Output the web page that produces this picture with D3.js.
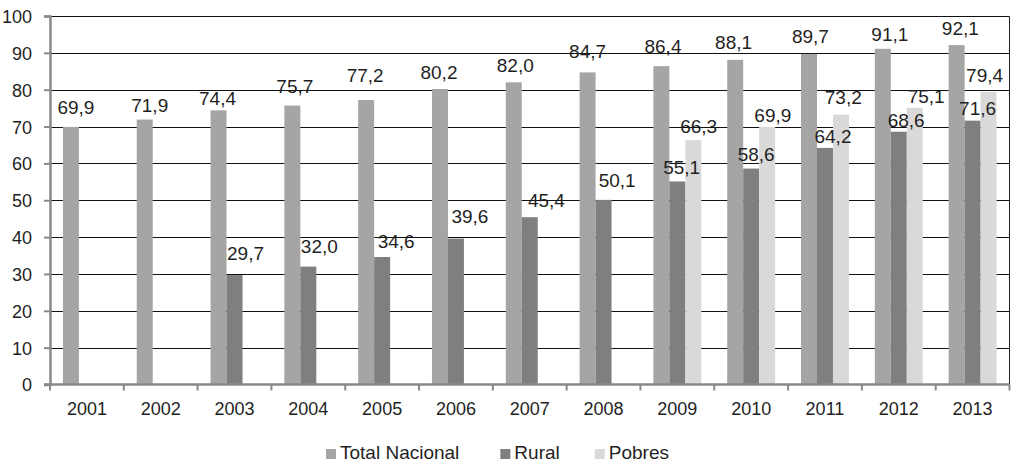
<!DOCTYPE html>
<html>
<head>
<meta charset="utf-8">
<script src="https://cdn.jsdelivr.net/npm/d3@7/dist/d3.min.js"></script>
<style>
  html, body { margin: 0; padding: 0; background: #fff; }
  svg { display: block; }
  text { font-family: "Liberation Sans", Arial, sans-serif; fill: #1f1f1f; }
</style>
</head>
<body>
<svg id="chart" width="1013" height="464"></svg>
<script>
// Years on the category axis
const years = ["2001","2002","2003","2004","2005","2006","2007","2008","2009","2010","2011","2012","2013"];

// Series values (null where no figure was reported)
const totalNacional = [69.9, 71.9, 74.4, 75.7, 77.2, 80.2, 82.0, 84.7, 86.4, 88.1, 89.7, 91.1, 92.1];
const rural        = [null, null, 29.7, 32.0, 34.6, 39.6, 45.4, 50.1, 55.1, 58.6, 64.2, 68.6, 71.6];
const pobres       = [null, null, null, null, null, null, null, null, 66.3, 69.9, 73.2, 75.1, 79.4];

const seriesNames = ["Total Nacional", "Rural", "Pobres"];
const yTicks = [0, 10, 20, 30, 40, 50, 60, 70, 80, 90, 100];

// Hand placement of each value label: [horizontal shift, lift above bar top]
const totalLabelShift  = [[5,13],[5,8],[-1,5],[2.5,12.5],[-1,18],[-1,10],[1.5,10],[0,14],[1.6,13],[-1.6,10.5],[1.4,10.6],[7,8],[3.7,10]];
const ruralLabelShift  = [null,null,[11,15],[11,14],[14,9],[14,16],[16.7,10.5],[13.6,13],[4.3,7.5],[5,7.5],[8,4.5],[7.4,4.4],[5,5.7]];
const pobresLabelShift = [null,null,null,null,null,null,null,null,[5.3,7],[5.7,5],[2.3,10.7],[11.4,4.5],[-4,10]];

const colors = ["#a5a5a5", "#7f7f7f", "#d9d9d9"];

const svg = d3.select("#chart");
const W = 1013, H = 464;
const plot = { left: 50, right: 1009.5, top: 16, bottom: 384.5 };

svg.append("rect").attr("width", W).attr("height", H).attr("fill", "#fff");

const x = d3.scaleBand().domain(years).range([plot.left, plot.right]).padding(0);
const inner = d3.scaleBand().domain(seriesNames).range([0, x.bandwidth()])
  .paddingInner(0).paddingOuter(0.81);
const y = d3.scaleLinear().domain([0, 100]).range([plot.bottom, plot.top]);

// Horizontal gridlines
svg.append("g").selectAll("line").data(yTicks.filter(t => t > 0)).join("line")
  .attr("x1", plot.left).attr("x2", plot.right)
  .attr("y1", d => Math.round(y(d)) + 0.5).attr("y2", d => Math.round(y(d)) + 0.5)
  .attr("stroke", "#111").attr("stroke-width", 1);

// Right border of the plot area
svg.append("line")
  .attr("x1", plot.right).attr("x2", plot.right)
  .attr("y1", Math.round(y(100)) + 0.5).attr("y2", plot.bottom)
  .attr("stroke", "#222").attr("stroke-width", 1);

// Bars
const seriesData = [totalNacional, rural, pobres];
const shifts = [totalLabelShift, ruralLabelShift, pobresLabelShift];

const barsG = svg.append("g");
const labelsG = svg.append("g");

seriesData.forEach((vals, s) => {
  const name = seriesNames[s];
  const rows = years.map((yr, i) => ({ yr, v: vals[i], shift: shifts[s][i] }))
    .filter(d => d.v !== null);
  barsG.append("g").selectAll("rect").data(rows).join("rect")
    .attr("x", d => x(d.yr) + inner(name))
    .attr("width", inner.bandwidth())
    .attr("y", d => y(d.v))
    .attr("height", d => y(0) - y(d.v))
    .attr("fill", colors[s]);

  labelsG.append("g").selectAll("text").data(rows).join("text")
    .attr("x", d => x(d.yr) + inner(name) + inner.bandwidth() / 2 + (d.shift ? d.shift[0] : 0))
    .attr("y", d => y(d.v) - (d.shift ? d.shift[1] : 10))
    .attr("text-anchor", "middle")
    .attr("font-size", "19px")
    .text(d => d3.format(".1f")(d.v).replace(".", ","));
});

// Y axis
const yAxis = d3.axisLeft(y).tickValues(yTicks).tickSize(6).tickPadding(12).tickFormat(d3.format("d"));
const gy = svg.append("g").attr("transform", `translate(${plot.left},0)`).call(yAxis);
gy.select(".domain").attr("stroke", "#898989").attr("stroke-width", 2.5);
gy.selectAll(".tick line").attr("stroke", "#898989").attr("stroke-width", 2);
gy.selectAll(".tick text").attr("font-size", "18px").attr("fill", "#1f1f1f")
  .attr("font-family", "Liberation Sans, Arial, sans-serif").attr("dy", "0.36em");

// X axis with tick marks at category boundaries
const gx = svg.append("g").attr("transform", `translate(0,${plot.bottom})`);
gx.append("line").attr("x1", plot.left - 6).attr("x2", plot.right)
  .attr("stroke", "#898989").attr("stroke-width", 2.5);
const boundaries = years.map(yr => x(yr)).concat([x(years[years.length - 1]) + x.bandwidth()]);
gx.selectAll("line.tk").data(boundaries).join("line").attr("class", "tk")
  .attr("x1", d => d).attr("x2", d => d).attr("y1", 0).attr("y2", 6)
  .attr("stroke", "#898989").attr("stroke-width", 2);
gx.selectAll("text").data(years).join("text")
  .attr("x", d => x(d) + x.bandwidth() / 2)
  .attr("y", 30.5)
  .attr("text-anchor", "middle")
  .attr("font-size", "18px")
  .text(d => d);

// Legend
const legend = svg.append("g").attr("transform", "translate(326,459)");
let lx = 0;
seriesNames.forEach((name, s) => {
  const g = legend.append("g").attr("transform", `translate(${lx},0)`);
  g.append("rect").attr("x", 0).attr("y", -10).attr("width", 10).attr("height", 10).attr("fill", colors[s]);
  const t = g.append("text").attr("x", 14).attr("y", 0).attr("font-size", "19px").text(name);
  lx += 14 + t.node().getComputedTextLength() + (s === 0 ? 41 : 35);
});
</script>
</body>
</html>
